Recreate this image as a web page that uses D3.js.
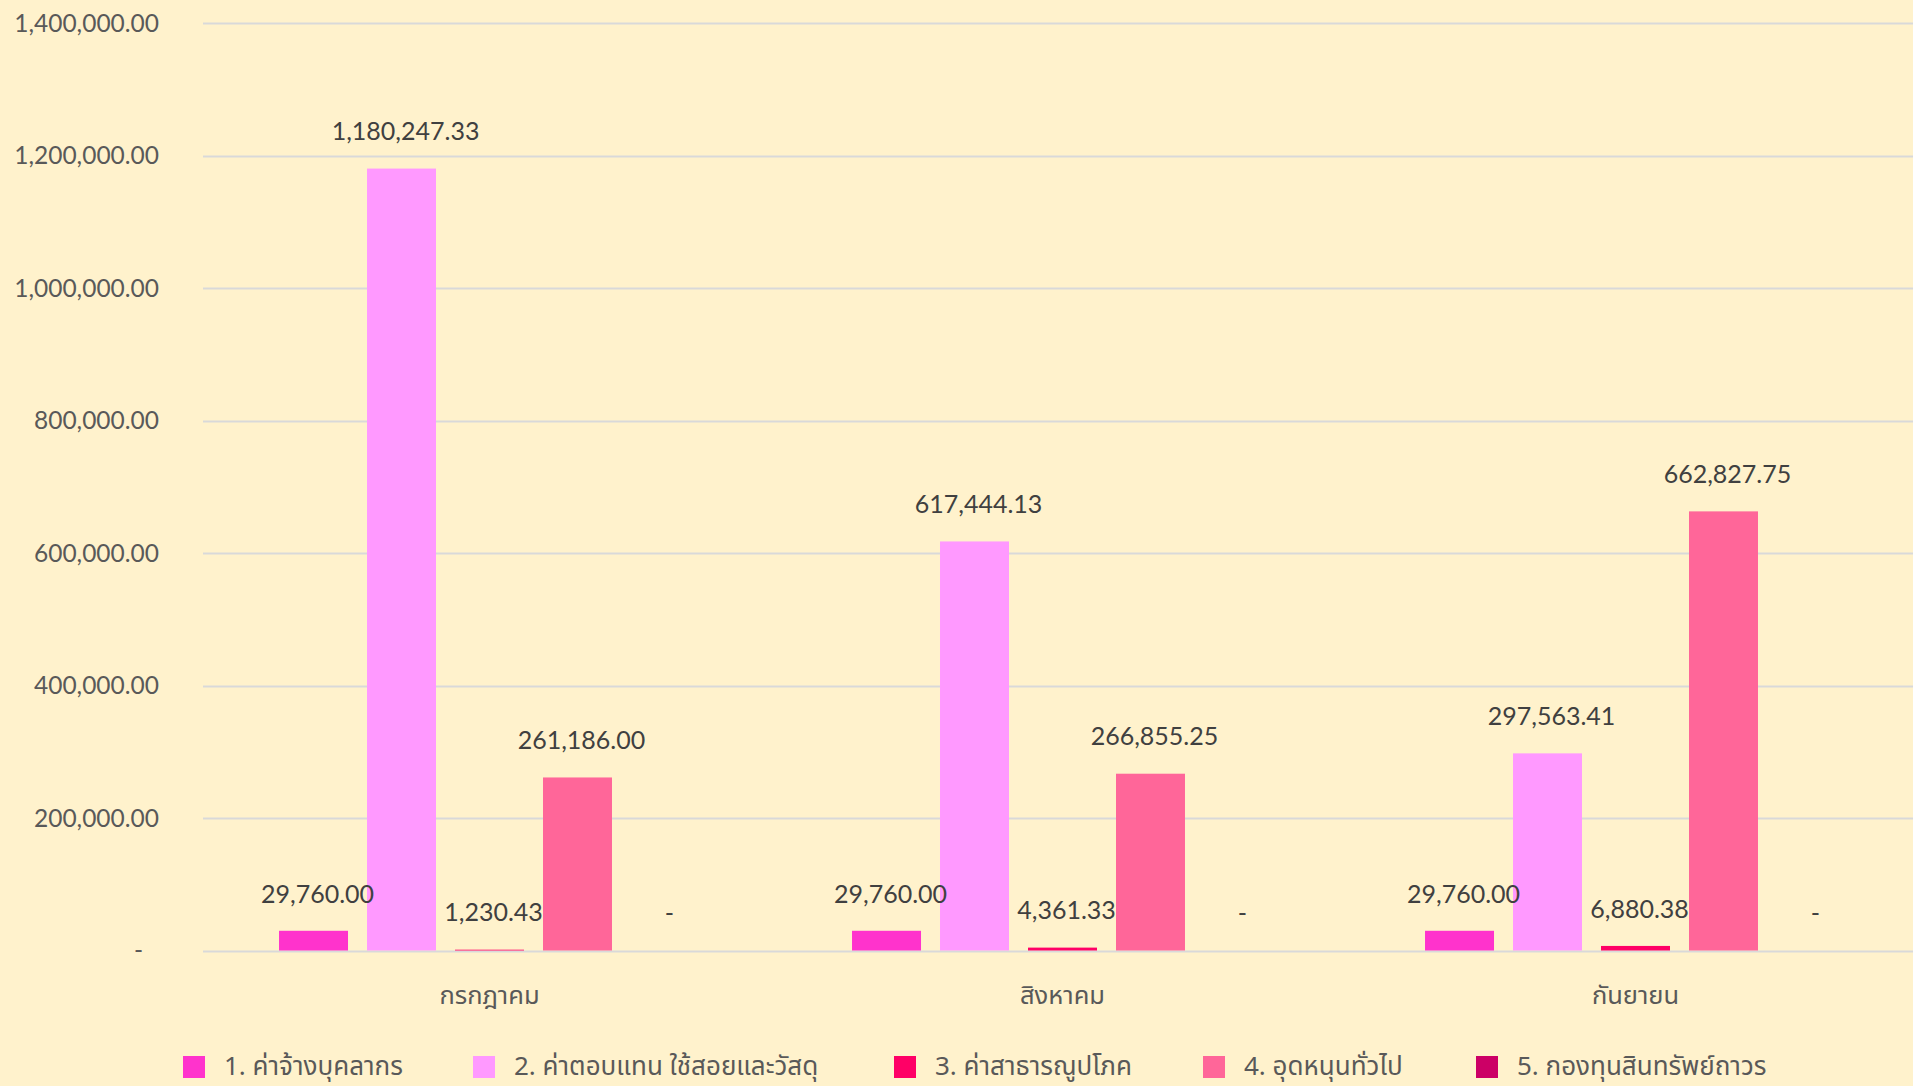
<!DOCTYPE html>
<html>
<head>
<meta charset="utf-8">
<script src="https://cdn.jsdelivr.net/npm/d3@7"></script>
<style>
  html, body { margin:0; padding:0; background:#FFF2CC; }
  svg { display:block; }
  .tick-label { font-family: Lato, "Noto Sans", sans-serif; font-size:24.5px; fill:#595959; }
  .cat-label { font-family: "Noto Sans Thai", Lato, sans-serif; font-size:25.5px; fill:#595959; }
  .data-label { font-family: Lato, "Noto Sans", sans-serif; font-size:25px; fill:#404040; }
  .legend-label { font-family: "Noto Sans Thai", Lato, sans-serif; font-size:26px; fill:#595959; }
</style>
</head>
<body>
<svg id="chart"></svg>
<script>
// months (categories)
const months = ["กรกฎาคม", "สิงหาคม", "กันยายน"];
// series names, as in the legend
const seriesNames = [
  "1. ค่าจ้างบุคลากร",
  "2. ค่าตอบแทน ใช้สอยและวัสดุ",
  "3. ค่าสาธารณูปโภค",
  "4. อุดหนุนทั่วไป",
  "5. กองทุนสินทรัพย์ถาวร"
];
// values per series, one per month
const s1 = [29760.00, 29760.00, 29760.00];
const s2 = [1180247.33, 617444.13, 297563.41];
const s3 = [1230.43, 4361.33, 6880.38];
const s4 = [261186.00, 266855.25, 662827.75];
const s5 = [0, 0, 0];
const seriesValues = [s1, s2, s3, s4, s5];
const yTicks = [0, 200000, 400000, 600000, 800000, 1000000, 1200000, 1400000];

const colors = ["#FF33CC", "#FF99FF", "#FF0066", "#FF6699", "#CC0066"];

const W = 1913, H = 1086;
const plot = { left:203, top:23, bottom:950.5, band:573 };
const legendX = [183, 473, 894, 1203, 1476];
const legendY = 1062;

const svg = d3.select("#chart").attr("width", W).attr("height", H);
svg.append("rect").attr("width", W).attr("height", H).attr("fill", "#FFF2CC");

const y = d3.scaleLinear().domain([0, 1400000]).range([plot.bottom, plot.top]);
const x0 = d3.scaleBand().domain(months)
  .range([plot.left, plot.left + plot.band * months.length]).padding(0);
const x1 = d3.scaleBand().domain(d3.range(seriesNames.length))
  .range([0, x0.bandwidth()]).paddingInner(0.216).paddingOuter(0.864);

const fmt = d3.format(",.2f");
const label = v => v === 0 ? "-" : fmt(v);

// gridlines
svg.append("g").selectAll("line").data(yTicks).enter().append("line")
  .attr("x1", plot.left).attr("x2", W + 20)
  .attr("y1", d => Math.round(y(d)) + 0.5).attr("y2", d => Math.round(y(d)) + 0.5)
  .attr("stroke", "#D9D9D9").attr("stroke-width", 2);

// y tick labels
svg.append("g").selectAll("text").data(yTicks).enter().append("text")
  .attr("class", "tick-label")
  .attr("x", d => d === 0 ? 143 : 159)
  .attr("y", d => y(d))
  .attr("dy", "0.35em")
  .attr("text-anchor", "end")
  .text(d => label(d));

// bars
const flat = [];
months.forEach((m, i) => seriesValues.forEach((vals, s) => flat.push({ month:m, s, value:vals[i] })));

svg.append("g").selectAll("rect").data(flat).enter().append("rect")
  .attr("x", d => x0(d.month) + x1(d.s))
  .attr("y", d => y(d.value))
  .attr("width", x1.bandwidth())
  .attr("height", d => y(0) - y(d.value))
  .attr("fill", d => colors[d.s]);

// data labels
svg.append("g").selectAll("text").data(flat).enter().append("text")
  .attr("class", "data-label")
  .attr("x", d => x0(d.month) + x1(d.s) + x1.bandwidth() / 2 + 4)
  .attr("y", d => y(d.value) - 37)
  .attr("dy", "0.35em")
  .attr("text-anchor", "middle")
  .text(d => label(d.value));

// category labels
svg.append("g").selectAll("text").data(months).enter().append("text")
  .attr("class", "cat-label")
  .attr("x", d => x0(d) + x0.bandwidth() / 2)
  .attr("y", 995)
  .attr("dy", "0.35em")
  .attr("text-anchor", "middle")
  .text(d => d);

// legend
const lg = svg.append("g").selectAll("g").data(seriesNames).enter().append("g")
  .attr("transform", (d, i) => `translate(${legendX[i]},${legendY})`);
lg.append("rect").attr("x", 0).attr("y", -6).attr("width", 22).attr("height", 22)
  .attr("fill", (d, i) => colors[i]);
lg.append("text").attr("class", "legend-label")
  .attr("x", 41).attr("y", 4).attr("dy", "0.35em")
  .text(d => d);
</script>
</body>
</html>
